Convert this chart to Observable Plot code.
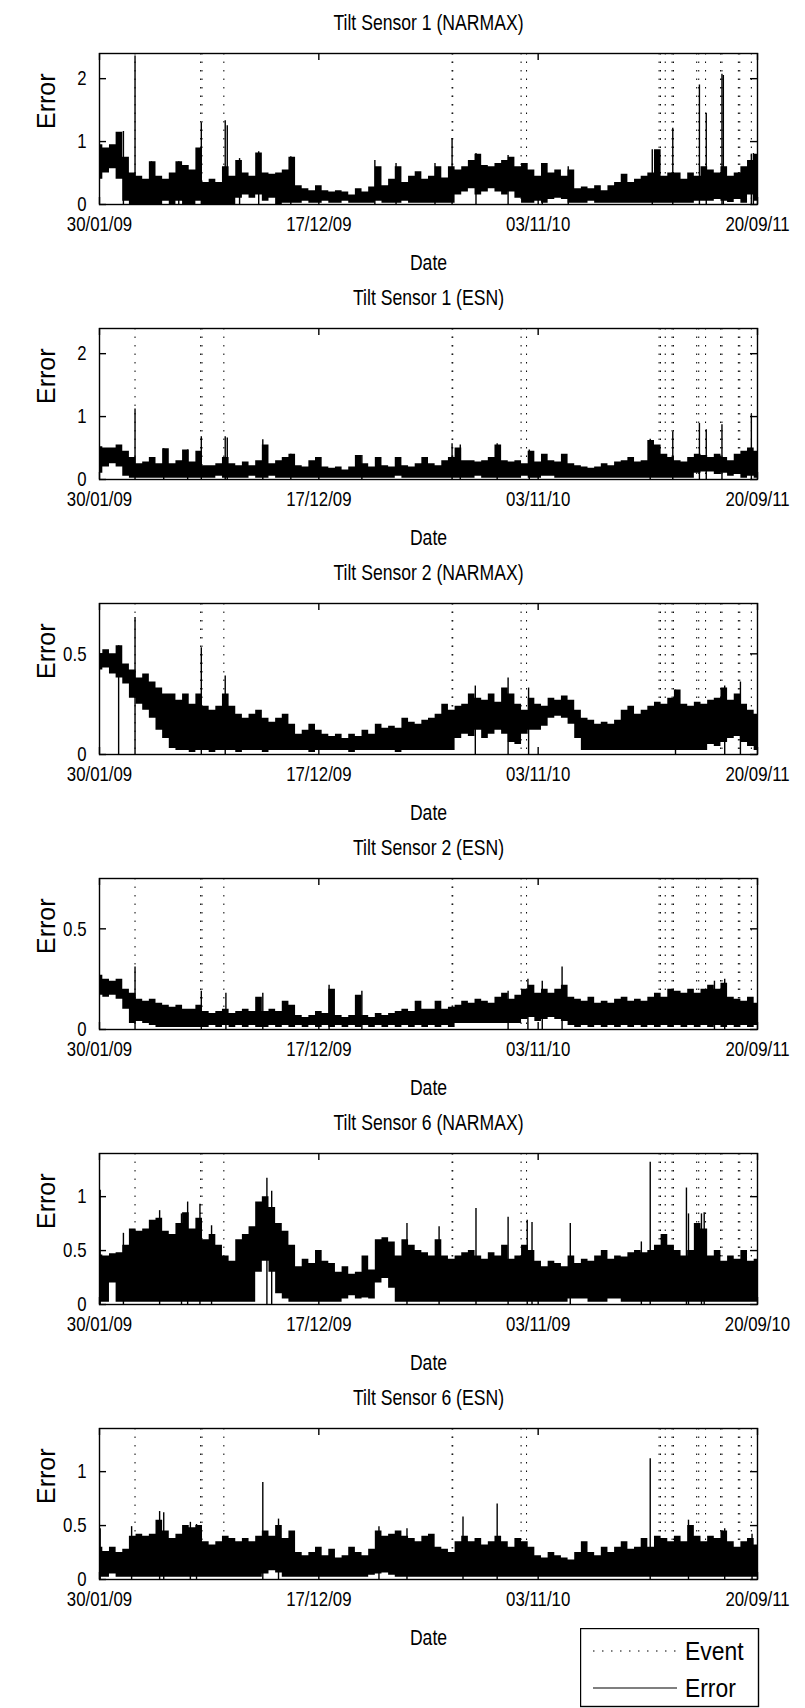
<!DOCTYPE html>
<html><head><meta charset="utf-8">
<script src="https://cdn.jsdelivr.net/npm/d3@7"></script>
<script src="https://cdn.jsdelivr.net/npm/@observablehq/plot@0.6"></script>
<style>
body{margin:0;background:#fff;}
#wrap{position:relative;width:805px;height:1708px;overflow:hidden;background:#fff;}
#wrap svg{display:block;}
#legend{position:absolute;left:580px;top:1628px;}
</style></head><body><div id="wrap"></div>
<script>
const FONT = "'Liberation Sans', Arial, Helvetica, sans-serif";
const startDate = "2009-01-30", endDate = "2011-09-20";
const tickDates = ["2009-01-30", "2009-12-17", "2010-11-03", "2011-09-20"];
const tickLabels = ["30/01/09", "17/12/09", "03/11/10", "20/09/11"];
const tickLabelsS6N = ["30/01/09", "17/12/09", "03/11/09", "20/09/10"];
const eventDates = ["2009-03-23","2009-06-27","2009-06-29","2009-07-31","2010-06-30","2010-07-01","2010-10-09","2010-10-17","2011-04-29","2011-05-01","2011-05-08","2011-05-18","2011-05-20","2011-06-23","2011-06-26","2011-07-06","2011-07-28","2011-07-30","2011-08-23","2011-08-25","2011-09-11"];
const titles = ["Tilt Sensor 1 (NARMAX)","Tilt Sensor 1 (ESN)","Tilt Sensor 2 (NARMAX)","Tilt Sensor 2 (ESN)","Tilt Sensor 6 (NARMAX)","Tilt Sensor 6 (ESN)"];
const yMax = [2.4, 2.4, 0.75, 0.75, 1.4, 1.4];
const yTicks = [[0,1,2],[0,1,2],[0,0.5],[0,0.5],[0,0.5,1],[0,0.5,1]];
const yTickLabels = [["0","1","2"],["0","1","2"],["0","0.5"],["0","0.5"],["0","0.5","1"],["0","0.5","1"]];

// Error envelopes: upper / lower edge of the noisy error trace, read at 100 evenly spaced dates
const s1nHi = [0.95,0.90,0.95,1.15,0.75,0.50,0.45,0.40,0.68,0.45,0.40,0.50,0.68,0.62,0.55,0.90,0.35,0.40,0.35,0.60,0.45,0.70,0.50,0.45,0.82,0.50,0.48,0.50,0.55,0.75,0.30,0.25,0.22,0.30,0.22,0.20,0.22,0.20,0.15,0.25,0.20,0.28,0.60,0.30,0.40,0.60,0.35,0.45,0.52,0.40,0.45,0.60,0.42,0.60,0.55,0.60,0.70,0.80,0.62,0.60,0.65,0.70,0.75,0.60,0.65,0.55,0.45,0.65,0.50,0.55,0.45,0.55,0.25,0.28,0.25,0.30,0.22,0.30,0.35,0.48,0.35,0.40,0.45,0.50,0.87,0.45,0.50,0.50,0.40,0.50,0.45,0.60,0.55,0.50,0.60,0.45,0.50,0.60,0.70,0.80];
const s1nLo = [0.40,0.50,0.57,0.40,0.05,0,0,0,0,0,0.05,0,0.05,0,0,0.05,0,0,0,0,0,0.10,0.15,0.10,0.15,0.05,0.10,0,0.02,0.02,0.02,0.05,0.02,0.02,0.05,0.02,0.02,0.05,0.02,0.02,0.02,0.02,0.05,0.02,0.02,0.02,0.05,0.02,0.02,0.02,0.02,0.02,0.02,0.02,0.15,0.20,0.25,0.15,0.20,0.25,0.20,0.15,0.20,0.10,0.02,0.02,0.05,0.02,0.08,0.10,0.08,0.02,0.02,0.02,0.05,0.02,0.02,0.02,0.02,0.02,0.02,0.02,0.02,0.02,0.02,0.02,0.02,0.02,0.02,0.02,0.05,0.05,0.05,0.08,0.05,0.03,0.08,0.02,0.15,0.05];
const s1nSpikes = [[35,1.16],[52,2.36],[76,0.68],[116,0.68],[149,1.30],[184,1.33],[187,1.25],[205,0.73],[233,0.84],[280,0.76],[403,0.70],[434,0.65],[491,0.65],[516,1.05],[551,0.81],[598,0.78],[648,0.65],[686,0.60],[809,0.87],[839,1.21],[878,1.90],[888,1.45],[911,2.07],[913,2.05],[954,0.80],[957,0.81]];

const s1eHi = [0.52,0.50,0.50,0.55,0.45,0.35,0.25,0.28,0.35,0.25,0.49,0.25,0.30,0.47,0.28,0.45,0.22,0.22,0.25,0.35,0.25,0.22,0.28,0.22,0.30,0.55,0.25,0.30,0.35,0.40,0.22,0.20,0.30,0.35,0.20,0.18,0.20,0.15,0.20,0.38,0.25,0.20,0.35,0.22,0.20,0.35,0.22,0.20,0.25,0.35,0.25,0.22,0.30,0.35,0.50,0.30,0.30,0.28,0.30,0.35,0.55,0.30,0.28,0.30,0.25,0.45,0.28,0.40,0.30,0.28,0.40,0.25,0.22,0.20,0.18,0.20,0.25,0.22,0.28,0.30,0.35,0.28,0.30,0.62,0.55,0.40,0.35,0.30,0.28,0.35,0.40,0.38,0.35,0.40,0.35,0.30,0.40,0.45,0.50,0.45];
const s1eLo = [0.10,0.20,0.25,0.20,0.05,0.02,0.02,0.02,0.02,0.02,0.02,0.02,0.02,0.02,0.02,0.02,0.02,0.02,0.05,0.02,0.02,0.02,0.02,0.05,0.02,0.02,0.05,0.02,0.02,0.02,0.02,0.02,0.02,0.02,0.02,0.02,0.02,0.02,0.02,0.02,0.02,0.02,0.02,0.02,0.02,0.05,0.02,0.02,0.02,0.02,0.02,0.02,0.02,0.02,0.02,0.02,0.02,0.05,0.02,0.02,0.02,0.02,0.02,0.02,0.05,0.02,0.02,0.05,0.05,0.02,0.02,0.02,0.02,0.02,0.02,0.02,0.02,0.02,0.02,0.02,0.02,0.02,0.02,0.02,0.02,0.02,0.02,0.02,0.02,0.02,0.10,0.12,0.12,0.08,0.10,0.05,0.08,0.02,0.05,0.02];
const s1eSpikes = [[52,1.12],[94,0.49],[129,0.47],[149,0.68],[184,0.68],[187,0.66],[239,0.63],[280,0.40],[384,0.38],[516,0.57],[528,0.55],[582,0.57],[629,0.47],[806,0.64],[839,0.76],[878,0.89],[888,0.79],[911,0.87],[954,1.03]];

const s2nHi = [0.50,0.52,0.50,0.54,0.45,0.42,0.38,0.40,0.36,0.33,0.30,0.30,0.27,0.30,0.25,0.30,0.24,0.22,0.24,0.30,0.24,0.20,0.18,0.20,0.22,0.18,0.16,0.18,0.20,0.15,0.10,0.12,0.15,0.12,0.10,0.09,0.10,0.08,0.10,0.09,0.12,0.10,0.15,0.13,0.14,0.13,0.18,0.16,0.15,0.17,0.18,0.20,0.25,0.22,0.24,0.25,0.30,0.28,0.27,0.30,0.26,0.33,0.30,0.25,0.22,0.28,0.25,0.24,0.28,0.27,0.29,0.27,0.22,0.18,0.17,0.15,0.16,0.15,0.17,0.22,0.24,0.20,0.22,0.24,0.26,0.25,0.28,0.32,0.25,0.24,0.26,0.25,0.27,0.28,0.33,0.27,0.30,0.25,0.22,0.20];
const s2nLo = [0.42,0.43,0.40,0.38,0.35,0.28,0.25,0.22,0.18,0.12,0.08,0.03,0.02,0.02,0.01,0.02,0.02,0.01,0.02,0.02,0.02,0.01,0.02,0.02,0.02,0.01,0.02,0.02,0.02,0.02,0.02,0.02,0.01,0.02,0.02,0.02,0.02,0.02,0.01,0.02,0.02,0.02,0.02,0.02,0.02,0.01,0.02,0.02,0.02,0.02,0.02,0.02,0.02,0.02,0.08,0.10,0.09,0.12,0.08,0.10,0.12,0.10,0.06,0.05,0.10,0.12,0.12,0.14,0.18,0.19,0.18,0.15,0.08,0.02,0.02,0.02,0.02,0.02,0.02,0.02,0.02,0.02,0.02,0.02,0.02,0.02,0.02,0.02,0.02,0.02,0.02,0.02,0.05,0.04,0.06,0.08,0.09,0.06,0.04,0.02];
const s2nSpikes = [[28,0.54],[52,0.68],[149,0.53],[184,0.39],[550,0.34],[598,0.38],[628,0.33],[843,0.32],[915,0.34],[938,0.36]];

const s2eHi = [0.27,0.25,0.24,0.25,0.20,0.18,0.15,0.14,0.15,0.13,0.12,0.11,0.12,0.10,0.10,0.12,0.09,0.08,0.09,0.10,0.08,0.09,0.10,0.09,0.16,0.09,0.10,0.09,0.14,0.12,0.07,0.06,0.07,0.09,0.08,0.20,0.07,0.06,0.07,0.17,0.07,0.06,0.08,0.07,0.08,0.09,0.10,0.09,0.14,0.10,0.10,0.14,0.10,0.11,0.12,0.14,0.13,0.15,0.14,0.13,0.16,0.18,0.15,0.17,0.20,0.22,0.18,0.20,0.18,0.20,0.22,0.16,0.15,0.14,0.16,0.13,0.14,0.13,0.15,0.16,0.14,0.15,0.14,0.16,0.18,0.16,0.20,0.19,0.18,0.20,0.18,0.20,0.22,0.20,0.23,0.16,0.15,0.14,0.16,0.13];
const s2eLo = [0.17,0.16,0.17,0.15,0.10,0.03,0.04,0.03,0.02,0.01,0.01,0.01,0.01,0.01,0.01,0.01,0.01,0.02,0.01,0.02,0.01,0.02,0.01,0.02,0.01,0.01,0.02,0.01,0.02,0.01,0.02,0.01,0.02,0.01,0.02,0.01,0.02,0.01,0.02,0.01,0.02,0.01,0.02,0.01,0.02,0.01,0.02,0.01,0.02,0.01,0.02,0.01,0.02,0.01,0.03,0.03,0.03,0.03,0.03,0.03,0.03,0.03,0.03,0.03,0.05,0.06,0.04,0.05,0.06,0.05,0.04,0.02,0.01,0.02,0.01,0.02,0.01,0.02,0.01,0.02,0.01,0.02,0.01,0.02,0.01,0.02,0.01,0.02,0.01,0.02,0.01,0.02,0.01,0.02,0.01,0.02,0.01,0.02,0.01,0.02];
const s2eSpikes = [[52,0.31],[149,0.19],[185,0.18],[239,0.18],[336,0.22],[384,0.19],[598,0.19],[627,0.25],[648,0.24],[677,0.31],[900,0.24],[915,0.25]];

const s6nHi = [0.46,0.45,0.47,0.48,0.55,0.70,0.68,0.70,0.78,0.80,0.68,0.65,0.75,0.85,0.70,0.80,0.60,0.65,0.55,0.45,0.40,0.60,0.65,0.72,0.95,1.00,0.90,0.75,0.68,0.55,0.35,0.42,0.38,0.50,0.40,0.38,0.30,0.35,0.28,0.30,0.45,0.32,0.60,0.62,0.58,0.45,0.60,0.55,0.50,0.48,0.45,0.60,0.45,0.42,0.45,0.48,0.50,0.45,0.42,0.48,0.45,0.55,0.42,0.45,0.55,0.50,0.40,0.35,0.40,0.38,0.35,0.45,0.38,0.42,0.40,0.45,0.50,0.42,0.45,0.44,0.48,0.50,0.48,0.50,0.55,0.65,0.55,0.50,0.45,0.50,0.75,0.70,0.45,0.50,0.40,0.45,0.42,0.50,0.40,0.42];
const s6nLo = [0.02,0.02,0.20,0.02,0.02,0.02,0.02,0.02,0.02,0.02,0.02,0.02,0.02,0.02,0.02,0.02,0.02,0.02,0.02,0.02,0.02,0.02,0.02,0.02,0.30,0.40,0.30,0.10,0.05,0.02,0.02,0.02,0.02,0.02,0.02,0.02,0.02,0.05,0.08,0.05,0.06,0.05,0.20,0.24,0.15,0.02,0.02,0.02,0.02,0.02,0.02,0.02,0.02,0.02,0.02,0.02,0.02,0.02,0.02,0.02,0.02,0.02,0.02,0.02,0.02,0.02,0.02,0.02,0.02,0.02,0.02,0.05,0.05,0.05,0.02,0.02,0.02,0.05,0.05,0.02,0.02,0.02,0.02,0.02,0.02,0.02,0.02,0.02,0.02,0.02,0.02,0.02,0.02,0.02,0.02,0.02,0.02,0.02,0.02,0.02];
const s6nSpikes = [[1,1.06],[35,0.66],[88,0.87],[120,0.84],[129,0.95],[147,0.93],[164,0.73],[245,1.17],[252,1.05],[450,0.75],[497,0.72],[551,0.89],[598,0.81],[626,0.78],[633,0.76],[689,0.75],[793,0.58],[806,1.32],[859,1.08],[862,0.84],[881,0.84],[885,0.85]];

const s6eHi = [0.30,0.26,0.30,0.25,0.28,0.40,0.42,0.40,0.42,0.55,0.45,0.38,0.42,0.50,0.48,0.50,0.35,0.32,0.35,0.40,0.38,0.35,0.38,0.35,0.40,0.45,0.40,0.50,0.38,0.45,0.25,0.22,0.25,0.30,0.22,0.28,0.20,0.22,0.30,0.25,0.22,0.28,0.45,0.40,0.42,0.45,0.40,0.38,0.35,0.40,0.42,0.30,0.28,0.25,0.35,0.40,0.35,0.38,0.32,0.35,0.40,0.35,0.30,0.38,0.35,0.30,0.22,0.20,0.25,0.22,0.20,0.18,0.25,0.35,0.25,0.22,0.30,0.25,0.30,0.35,0.28,0.30,0.38,0.30,0.40,0.38,0.35,0.40,0.35,0.50,0.40,0.35,0.40,0.38,0.45,0.35,0.30,0.35,0.38,0.32];
const s6eLo = [0.02,0.02,0.05,0.02,0.02,0.02,0.02,0.02,0.02,0.02,0.02,0.02,0.02,0.02,0.02,0.02,0.02,0.02,0.02,0.02,0.02,0.02,0.02,0.02,0.02,0.05,0.08,0.06,0.02,0.02,0.02,0.02,0.02,0.02,0.02,0.02,0.02,0.02,0.02,0.02,0.02,0.04,0.05,0.06,0.04,0.02,0.02,0.02,0.02,0.02,0.02,0.02,0.02,0.02,0.02,0.02,0.02,0.02,0.02,0.02,0.02,0.02,0.02,0.02,0.02,0.02,0.02,0.02,0.02,0.02,0.02,0.02,0.02,0.02,0.02,0.02,0.02,0.02,0.02,0.02,0.02,0.02,0.02,0.02,0.02,0.02,0.02,0.02,0.02,0.02,0.02,0.02,0.02,0.02,0.02,0.02,0.02,0.02,0.02,0.02];
const s6eSpikes = [[1,0.47],[47,0.49],[88,0.63],[94,0.62],[133,0.53],[142,0.51],[239,0.90],[262,0.56],[409,0.49],[450,0.47],[532,0.58],[582,0.70],[806,1.12],[862,0.55],[915,0.47],[955,0.42]];

const his = [s1nHi, s1eHi, s2nHi, s2eHi, s6nHi, s6eHi];
const los = [s1nLo, s1eLo, s2nLo, s2eLo, s6nLo, s6eLo];
const spikesAll = [s1nSpikes, s1eSpikes, s2nSpikes, s2eSpikes, s6nSpikes, s6eSpikes];
const xLabelSets = [tickLabels, tickLabels, tickLabels, tickLabels, tickLabelsS6N, tickLabels];

const DAY = 864e5;
const t0 = new Date(startDate + "T00:00:00Z"), t1 = new Date(endDate + "T00:00:00Z");
const span = (t1 - t0) / DAY;
const tDates = tickDates.map(d => new Date(d + "T00:00:00Z"));
const evDates = eventDates.map(d => new Date(d + "T00:00:00Z"));

const W = 805, H = 275, mL = 99, mR = 48, mT = 53, mB = 71;
const pw = W - mL - mR, ph = H - mT - mB;

function panel(k) {
  const hi = his[k], lo = los[k], n = hi.length;
  const samples = hi.map((h, i) => ({date: new Date(+t0 + i * span / (n - 1) * DAY), hi: h, lo: lo[i]}));
  const spikes = spikesAll[k].map(([d, v]) => ({date: new Date(+t0 + d * DAY), v}));
  const xl = new Map(tDates.map((d, i) => [+d, xLabelSets[k][i]]));
  const yl = new Map(yTicks[k].map((v, i) => [v, yTickLabels[k][i]]));
  return Plot.plot({
    width: W, height: H, marginLeft: mL, marginRight: mR, marginTop: mT, marginBottom: mB,
    style: {fontFamily: FONT, color: "black", background: "white", overflow: "visible"},
    x: {type: "utc", domain: [t0, t1]},
    y: {domain: [0, yMax[k]]},
    marks: [
      Plot.ruleX(evDates, {x: d => d, stroke: "black", strokeWidth: 1, strokeDasharray: "1.5,7"}),
      Plot.areaY(samples, {x: "date", y1: "lo", y2: "hi", curve: "step", fill: "black"}),
      Plot.ruleX(spikes, {x: "date", y1: 0, y2: "v", stroke: "black", strokeWidth: 1.4}),
      Plot.frame({stroke: "black", strokeWidth: 1.4}),
      Plot.tickY(yTicks[k], {y: d => d, insetRight: pw - 7, stroke: "black", strokeWidth: 1.4}),
      Plot.tickY(yTicks[k], {y: d => d, insetLeft: pw - 7, stroke: "black", strokeWidth: 1.4}),
      Plot.tickX(tDates, {x: d => d, insetBottom: ph - 7, stroke: "black", strokeWidth: 1.4}),
      Plot.tickX(tDates, {x: d => d, insetTop: ph - 7, stroke: "black", strokeWidth: 1.4}),
      Plot.axisY(yTicks[k], {tickSize: 0, tickPadding: 13, tickFormat: d => yl.get(d), fontSize: 21, label: null}),
      Plot.axisX(tDates, {tickSize: 0, tickPadding: 12, tickFormat: d => xl.get(+d), fontSize: 21, label: null}),
      Plot.text([titles[k]], {text: d => d, frameAnchor: "top", lineAnchor: "middle", dy: -31, fontSize: 22}),
      Plot.text(["Date"], {text: d => d, frameAnchor: "bottom", lineAnchor: "middle", dy: 58, fontSize: 22}),
      Plot.text(["Error"], {text: d => d, frameAnchor: "left", lineAnchor: "middle", dx: -53, rotate: -90, fontSize: 25})
    ]
  });
}

// horizontally condense text glyphs (the reference typeface is narrow)
function condense(svg, f, skip) {
  svg.querySelectorAll("text").forEach(t => {
    if (skip.includes(t.textContent)) return;
    const len = t.getComputedTextLength();
    if (len > 0) {
      t.setAttribute("textLength", (len * f).toFixed(1));
      t.setAttribute("lengthAdjust", "spacingAndGlyphs");
    }
  });
}

const wrap = document.getElementById("wrap");
for (let k = 0; k < 6; k++) {
  const svg = panel(k);
  wrap.appendChild(svg);
  condense(svg, 0.8, ["Error"]);
}

// legend
const legendItems = [{label: "Event", dash: "1.5,7.5"}, {label: "Error", dash: null}];
const ns = "http://www.w3.org/2000/svg";
const lg = document.createElementNS(ns, "svg");
lg.setAttribute("id", "legend"); lg.setAttribute("width", 180); lg.setAttribute("height", 80);
lg.style.fontFamily = FONT;
const rect = document.createElementNS(ns, "rect");
rect.setAttribute("x", 0.5); rect.setAttribute("y", 0.5); rect.setAttribute("width", 178); rect.setAttribute("height", 78);
rect.setAttribute("fill", "white"); rect.setAttribute("stroke", "black"); rect.setAttribute("stroke-width", 1.4);
lg.appendChild(rect);
legendItems.forEach((it, i) => {
  const y = 23 + i * 37;
  const ln = document.createElementNS(ns, "line");
  ln.setAttribute("x1", 13); ln.setAttribute("x2", 97); ln.setAttribute("y1", y); ln.setAttribute("y2", y);
  ln.setAttribute("stroke", "black"); ln.setAttribute("stroke-width", 1.2);
  if (it.dash) ln.setAttribute("stroke-dasharray", it.dash);
  lg.appendChild(ln);
  const tx = document.createElementNS(ns, "text");
  tx.setAttribute("x", 105); tx.setAttribute("y", y); tx.setAttribute("dy", "0.35em");
  tx.setAttribute("font-size", 26); tx.textContent = it.label;
  lg.appendChild(tx);
});
wrap.appendChild(lg);
condense(lg, 0.88, []);
</script>
</body></html>
